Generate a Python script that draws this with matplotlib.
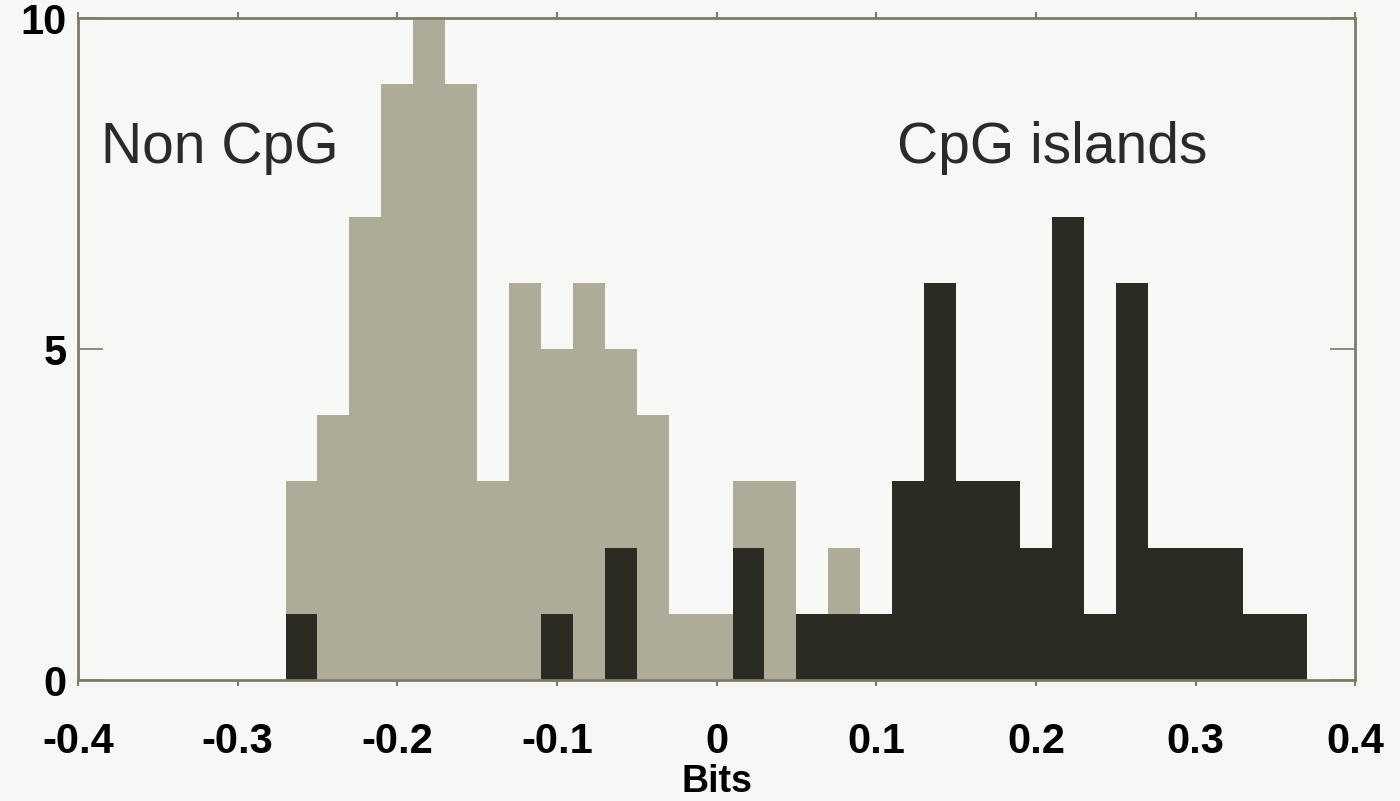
import numpy as np
import matplotlib
matplotlib.use("Agg")
import matplotlib.pyplot as plt

# bin centres, width 0.02
centers = np.round(np.arange(-0.26, 0.37, 0.02), 2)
non_cpg = [3, 4, 7, 9, 10, 9, 3, 6, 5, 6, 5, 4, 1, 1, 3, 3, 0, 2]
cpg = [1, 0, 0, 0, 0, 0, 0, 0, 1, 0, 2, 0, 0, 0, 2, 0,
       1, 1, 1, 3, 6, 3, 3, 2, 7, 1, 6, 2, 2, 2, 1, 1]
xticks = [-0.4, -0.3, -0.2, -0.1, 0, 0.1, 0.2, 0.3, 0.4]
xtick_labels = ["-0.4", "-0.3", "-0.2", "-0.1", "0", "0.1", "0.2", "0.3", "0.4"]
yticks = [0, 5, 10]

bg = "#f7f7f5"
light = "#aeab99"
dark = "#2c2b23"
axcol = "#7f7b69"

plt.rcParams['font.family'] = ['Liberation Sans', 'DejaVu Sans']

fig = plt.figure(figsize=(14, 8.01), dpi=100, facecolor=bg)
ax = fig.add_axes([0.0557, 0.151, 0.9123, 0.8265])
ax.set_facecolor(bg)

ax.bar(centers[:len(non_cpg)], non_cpg, width=0.02, color=light, linewidth=0)
ax.bar(centers, cpg, width=0.02, color=dark, linewidth=0)

ax.set_xlim(-0.4, 0.4)
ax.set_ylim(0, 10)
ax.set_xticks(xticks)
ax.set_xticklabels(xtick_labels, fontsize=30, fontweight='bold')
ax.set_yticks(yticks)
ax.set_yticklabels([str(v) for v in yticks], fontsize=30, fontweight='bold')
ax.tick_params(axis='x', direction='out', length=4, width=1.5, color=axcol,
               top=True, pad=26)
ax.tick_params(axis='y', direction='in', length=18, width=1.2, color=axcol,
               right=True, pad=8)
for s in ax.spines.values():
    s.set_color(axcol)
    s.set_linewidth(2)

ax.set_xlabel("Bits", fontsize=27, fontweight='bold', labelpad=2)

ax.text(0.018, 0.803, "Non CpG", transform=ax.transAxes, fontsize=41,
        color="#2a2a2a", va='center', ha='left')
ax.text(0.641, 0.803, "CpG islands", transform=ax.transAxes, fontsize=41,
        color="#2a2a2a", va='center', ha='left')

fig.savefig("out.png", dpi=100, facecolor=bg)
